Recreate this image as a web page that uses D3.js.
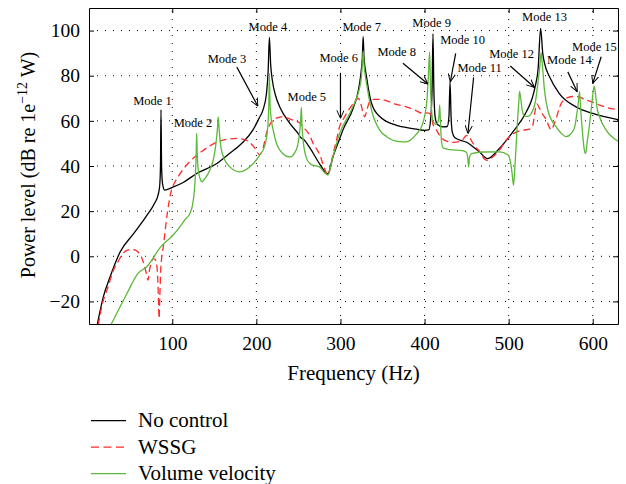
<!DOCTYPE html>
<html>
<head>
<meta charset="utf-8">
<script src="https://cdn.jsdelivr.net/npm/d3@7"></script>
<style>
body { margin: 0; background: #fff; }
text { font-family: "Liberation Serif", "DejaVu Serif", serif; }
.grid line { stroke: #000; stroke-width: 1; stroke-dasharray: 1,7; }
.axis path, .axis line { stroke: #000; }
</style>
</head>
<body>
<script>
// Frequency (Hz) / power level (dB) pairs
var noControl = [[11,-30],[18,-18],[26,-9.2],[38,1.9],[54,10],[70,18.2],[79,23.5],[83,27],[85,31],[86,40],[86.6,65],[87.3,40],[88.5,32],[91,29.3],[100,30.5],[113,32.7],[129,36.7],[153,41.1],[168,45.5],[184,50.5],[196,56],[203,61],[208,65],[212,72],[214,82],[215.5,97],[217,85],[219,78],[223,71],[228,66],[240,58.8],[250,54.2],[253,52.5],[256,51.8],[264,47.8],[275,41.1],[285,36.5],[291,44],[299,52],[303,56],[315,65.5],[321,73],[324,80],[326,88],[327,97.3],[328,88],[331,79.5],[337,67.7],[347,61.8],[366,58.1],[386,56.6],[400,55.8],[405,56],[407.5,62],[409,75],[410,98.5],[411,75],[412.5,62],[415,58.5],[422,57.3],[427,57.5],[429,62],[430.3,77.3],[431.5,62],[433,55],[436,52.5],[450,50.5],[465,46.3],[475,43.3],[489,47.8],[505,55.1],[521,64],[528,70],[532,76],[535,83],[538,101],[540.5,90],[543,85],[548.6,79.5],[560,72.2],[580,66.2],[600,63.3],[630,60.5]];

var wssg = [[12,-30.5],[17,-21],[23.6,-13.6],[30,-6.2],[36,-2],[42,1.5],[48,2.8],[53.7,3],[59,2],[63,0],[67,-4.5],[69.5,-8],[71.2,-10.6],[73,-6],[75,-3],[77.2,-1],[79,-1.2],[81,-3],[82.5,-8],[83.5,-18],[84.3,-27.5],[85.2,-18],[86.3,-6],[87.6,0],[89.3,4.1],[93,16],[98.8,29],[103,32.8],[107,35.3],[118.6,41.1],[134.5,46.3],[154.3,50.7],[165,51.8],[176.5,52.2],[185,51.8],[192,50.5],[198,48],[204,45],[208,48],[212,54.4],[220,60.3],[230,61.8],[243.7,60.3],[251.7,59],[255.6,57.3],[263.5,53.5],[267.5,50],[275.4,45],[280,40],[285,36],[291,45],[295,51],[299,57.5],[303,60.5],[311,65.5],[316,68],[321,70],[324,68],[326.5,64],[328.9,61.8],[331.5,65],[334.8,68.5],[340,69.5],[346.7,69.5],[366.5,67.3],[380,66],[390,64.5],[398,63.3],[404,63.5],[408,62.5],[410,58.5],[414,56],[418,53.5],[426,51],[433.7,50.5],[441.7,50.8],[446,52],[449.6,53.5],[452,53.5],[456,51],[461.5,48],[465.4,46.5],[471.4,43],[475,42.5],[481,44],[489,47],[497,51.5],[501,53],[509,55],[517,55.9],[524.8,56.3],[528.7,58],[530.8,63],[533.5,67.5],[536.7,65.5],[540.6,62.8],[544.7,60.5],[548.6,57],[550.6,56],[553.5,58],[556.5,61],[560.4,66],[568.4,70],[576,70.8],[584.2,70.6],[590,69.5],[600,68.3],[608,67],[616,66],[630,65]];

var volumeVelocity = [[27.5,-30],[46,-16.6],[59,-7.7],[70,-4.5],[87,4.5],[100,9],[109,13],[115,16.2],[121,19],[124,22.5],[126,28],[127.5,36],[128.5,46],[129,54.5],[129.7,45],[131,38],[133,34.5],[135,33],[139,34.5],[145,38.5],[149,43],[152,50],[153.8,57],[154.7,61.8],[155.8,56],[158,48],[162,43],[168.5,39.6],[180,37.4],[192,39.6],[204,44.8],[210,49],[213,55],[214.7,66],[215.5,81],[216.3,67],[218,60],[220,55.9],[224,50],[228,47],[235,44.5],[240,44],[245,45.5],[249,49],[251.5,55],[252.8,61],[253.5,66],[254.3,58],[256,50],[259.6,43.5],[264,41],[268,40.3],[275,39.6],[280,37.5],[285,36],[291,44],[299,54.4],[311,63.3],[318,69],[322,73.5],[325,80],[326.3,87],[327,91],[328,85],[331,76.6],[337,64.7],[346.7,55.9],[355,53],[362.5,51.4],[370,50.8],[378,50.7],[390,54],[397,58],[400,62],[403,70],[404.5,79.5],[406,90.6],[407,76],[408.5,64],[410,60],[413,58.5],[416,59.5],[417.3,63],[418,67],[418.8,60],[420,51.5],[422,48],[430,47.3],[445,46.8],[450,46],[451.5,43],[452.4,39.6],[453.5,44],[455.6,45.5],[470,46.2],[489,46.3],[499,45],[502,42],[504,37],[505.8,31.5],[507.5,40],[509,50],[510.5,60],[512,68],[513,73],[514,71],[516,65],[519,62],[523,62],[528.7,64.7],[532,69],[534.7,76.6],[537,84],[538.6,90.2],[540,85],[542.6,73.6],[546.6,64.7],[556.5,57.3],[563,54.3],[568.4,53],[574,54.3],[578.3,57],[581,63],[582.8,68],[584.2,72.9],[585.5,66],[587.5,56],[590,47],[591.5,45.5],[593.5,51],[596,58],[599,68],[600.5,73],[601.8,75.4],[603.5,71],[605,66],[608,61.8],[616,55.9],[630,51]];

var xTicks = [100, 200, 300, 400, 500, 600];
var yTicks = [-20, 0, 20, 40, 60, 80, 100];

var seriesNames = ["No control", "WSSG", "Volume velocity"];
var seriesColors = ["#000000", "#ff2a2a", "#5cb83a"];

// mode annotations: label position and optional arrow (from -> to), all in data units
var modeNames = ["Mode 1","Mode 2","Mode 3","Mode 4","Mode 5","Mode 6","Mode 7","Mode 8","Mode 9","Mode 10","Mode 11","Mode 12","Mode 13","Mode 14","Mode 15"];
var modeLabelAt = [[76.5,67],[124.6,57.2],[165,85.6],[213.7,99.8],[260,68.7],[298,86],[325.3,99.8],[366.9,88.7],[408.4,101.6],[445.2,94],[465.4,81.6],[503.4,87.8],[542.6,104.2],[572.3,85.1],[602,90.9]];
var modeArrows = [null, null, [176.8,83.8,201.8,66.5], null, null, [300,81.3,300,61.1], null, [374.3,85.5,404,76.3], null, [437,89.9,430.6,77.3], [458.3,79.2,451.5,54.4], [501.9,84.3,530.8,74.8], null, [570.3,81.7,581.5,72.9], [610,88.4,600,76.6]];

var width = 626, height = 484;
var margin = {left: 89, right: 8, top: 8, bottom: 160};
var plotW = width - margin.left - margin.right;
var plotH = height - margin.top - margin.bottom;
var serif = "Liberation Serif";

var x = d3.scaleLinear().domain([1, 630]).range([0, plotW]);
var y = d3.scaleLinear().domain([-30, 110]).range([plotH, 0]);

var svg = d3.select("body").append("svg")
    .attr("width", width).attr("height", height)
    .attr("font-family", serif);

svg.append("defs").append("marker")
    .attr("id", "arrow")
    .attr("viewBox", "0 -5 10 10")
    .attr("refX", 10).attr("refY", 0)
    .attr("markerUnits", "userSpaceOnUse")
    .attr("markerWidth", 8).attr("markerHeight", 8)
    .attr("orient", "auto")
  .append("path")
    .attr("d", "M0,-4.5L10,0L0,4.5")
    .attr("fill", "none").attr("stroke", "#000").attr("stroke-width", 1.2);

var chart = svg.append("g")
    .attr("transform", "translate(" + margin.left + "," + margin.top + ")");

// dotted grid
var grid = chart.append("g").attr("class", "grid");
grid.selectAll(".vg").data(xTicks).enter().append("line")
    .attr("x1", function(d){ return x(d); }).attr("x2", function(d){ return x(d); })
    .attr("y1", plotH).attr("y2", 0);
grid.selectAll(".hg").data(yTicks).enter().append("line")
    .attr("y1", function(d){ return y(d); }).attr("y2", function(d){ return y(d); })
    .attr("x1", 0).attr("x2", plotW);

chart.append("defs").append("clipPath").attr("id", "clip")
  .append("rect").attr("width", plotW).attr("height", plotH);

var line = d3.line()
    .x(function(d){ return x(d[0]); })
    .y(function(d){ return y(d[1]); })
    .curve(d3.curveMonotoneX);

var curves = chart.append("g").attr("clip-path", "url(#clip)");
curves.append("path").datum(noControl)
    .attr("d", line).attr("fill", "none")
    .attr("stroke", seriesColors[0]).attr("stroke-width", 1.3);
curves.append("path").datum(wssg)
    .attr("d", line).attr("fill", "none")
    .attr("stroke", seriesColors[1]).attr("stroke-width", 1.3)
    .attr("stroke-dasharray", "7,4");
curves.append("path").datum(volumeVelocity)
    .attr("d", line).attr("fill", "none")
    .attr("stroke", seriesColors[2]).attr("stroke-width", 1.3);

// axes: ticks point inwards on all four sides
var fmt = d3.format("d");
function styleTicks(g) {
  g.attr("font-family", serif).attr("font-size", 19.5);
  g.selectAll("text").attr("fill", "#000");
}
chart.append("g").attr("class", "axis")
    .attr("transform", "translate(0," + plotH + ")")
    .call(d3.axisBottom(x).tickValues(xTicks).tickSize(-5).tickSizeOuter(0).tickPadding(12).tickFormat(fmt))
    .call(styleTicks);
chart.append("g").attr("class", "axis")
    .call(d3.axisLeft(y).tickValues(yTicks).tickSize(-5).tickSizeOuter(0).tickPadding(9).tickFormat(fmt))
    .call(styleTicks);
chart.append("g").attr("class", "axis")
    .call(d3.axisTop(x).tickValues(xTicks).tickSize(-5).tickSizeOuter(0).tickFormat(""));
chart.append("g").attr("class", "axis")
    .attr("transform", "translate(" + plotW + ",0)")
    .call(d3.axisRight(y).tickValues(yTicks).tickSize(-5).tickSizeOuter(0).tickFormat(""));

// mode labels and arrows
chart.selectAll(".mode").data(modeNames).enter().append("text")
    .attr("class", "mode")
    .attr("x", function(d, i){ return x(modeLabelAt[i][0]); })
    .attr("y", function(d, i){ return y(modeLabelAt[i][1]); })
    .attr("text-anchor", "middle")
    .attr("font-size", 12.5)
    .text(function(d){ return d; });

chart.selectAll(".arrow").data(modeArrows.filter(function(a){ return a; })).enter().append("line")
    .attr("class", "arrow")
    .attr("x1", function(a){ return x(a[0]); }).attr("y1", function(a){ return y(a[1]); })
    .attr("x2", function(a){ return x(a[2]); }).attr("y2", function(a){ return y(a[3]); })
    .attr("stroke", "#000").attr("stroke-width", 1.2)
    .attr("marker-end", "url(#arrow)");

// axis titles
chart.append("text")
    .attr("x", plotW / 2).attr("y", plotH + 56)
    .attr("text-anchor", "middle").attr("font-size", 21)
    .text("Frequency (Hz)");

var yl = chart.append("text")
    .attr("transform", "translate(" + (35 - margin.left) + "," + (plotH / 2 - 1) + ") rotate(-90)")
    .attr("text-anchor", "middle").attr("font-size", 20);
yl.append("tspan").text("Power level (dB re 1e");
yl.append("tspan").attr("dy", -8).attr("font-size", 14).text("\u221212");
yl.append("tspan").attr("dy", 8).text(" W)");

// legend below the plot
var legend = svg.selectAll(".legend").data(seriesNames).enter().append("g")
    .attr("class", "legend")
    .attr("transform", function(d, i){ return "translate(91," + (420.7 + i * 26.5) + ")"; });
legend.append("line")
    .attr("x1", 0).attr("x2", 35).attr("y1", 0).attr("y2", 0)
    .attr("stroke", function(d, i){ return seriesColors[i]; })
    .attr("stroke-width", 1.3)
    .attr("stroke-dasharray", function(d, i){ return i == 1 ? "8,4.5" : null; });
legend.append("text")
    .attr("x", 47).attr("dy", "0.3em")
    .attr("font-size", 21)
    .text(function(d){ return d; });
</script>
</body>
</html>
